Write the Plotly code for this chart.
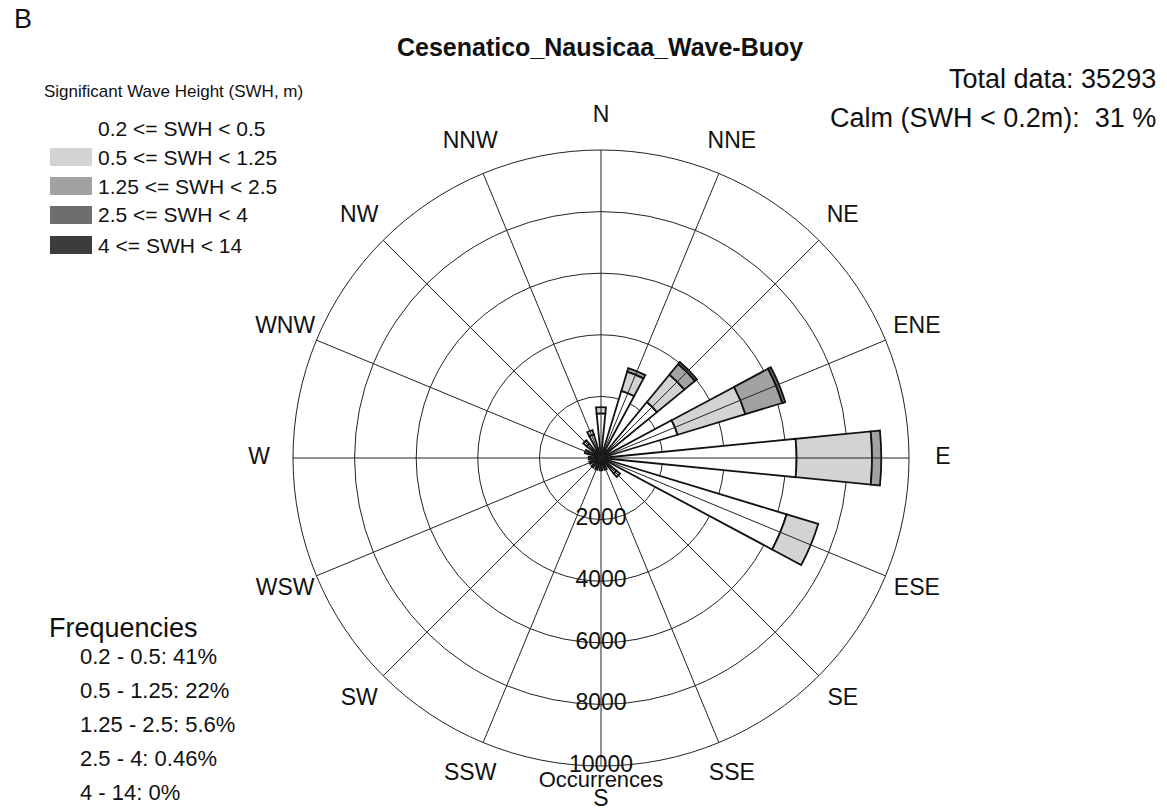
import plotly.graph_objects as go

# Compass sectors (16-point rose)
directions = ["N", "NNE", "NE", "ENE", "E", "ESE", "SE", "SSE",
              "S", "SSW", "SW", "WSW", "W", "WNW", "NW", "NNW"]

# Occurrences per sector for each SWH class (stacked outward)
swh_02_05 = [1450, 2280, 2350, 2600, 6350, 6300, 650, 400,
             400, 400, 400, 400, 400, 450, 600, 800]
swh_05_125 = [200, 650, 1150, 2300, 2450, 1070, 150, 0,
              0, 0, 0, 0, 0, 100, 150, 150]
swh_125_25 = [0, 120, 450, 1250, 300, 0, 0, 0,
              0, 0, 0, 0, 0, 0, 0, 0]
swh_25_4 = [0, 0, 80, 100, 0, 0, 0, 0,
            0, 0, 0, 0, 0, 0, 0, 0]
swh_4_14 = [0] * 16

class_labels = ["0.2 <= SWH < 0.5", "0.5 <= SWH < 1.25", "1.25 <= SWH < 2.5",
                "2.5 <= SWH < 4", "4 <= SWH < 14"]
class_colors = ["#ffffff", "#d3d3d3", "#a2a2a2", "#6e6e6e", "#3c3c3c"]
series = [swh_02_05, swh_05_125, swh_125_25, swh_25_4, swh_4_14]

ring_values = [2000, 4000, 6000, 8000, 10000]
ring_labels = ["2000", "4000", "6000", "8000", "10000"]
r_max = 10000          # outer ring of the rose
r_label = 11100        # radius where compass names sit
r_axis_title = 10500   # radius of the "Occurrences" caption

freq_labels = ["0.2 - 0.5: 41%", "0.5 - 1.25: 22%", "1.25 - 2.5: 5.6%",
               "2.5 - 4: 0.46%", "4 - 14: 0%"]

FONT = "Liberation Sans, Arial, sans-serif"
W, H = 1167, 812

fig = go.Figure()
for vals, name, col in zip(series, class_labels, class_colors):
    fig.add_trace(go.Barpolar(
        r=vals, theta=directions, name=name, width=0.5,
        marker=dict(color=col, line=dict(color="#111111", width=1.8)),
        showlegend=False,
    ))

# spokes from the centre to the outer ring, one per compass direction
spoke_r, spoke_t = [], []
for d in directions:
    spoke_r += [0, r_max, None]
    spoke_t += [d, d, None]
fig.add_trace(go.Scatterpolar(
    r=spoke_r, theta=spoke_t, mode="lines",
    line=dict(color="#222222", width=1), connectgaps=False,
    showlegend=False, hoverinfo="skip",
))

# compass names around the rose
fig.add_trace(go.Scatterpolar(
    r=[r_label] * len(directions), theta=directions, mode="text",
    text=directions, textposition="middle center",
    textfont=dict(family=FONT, size=23, color="#111111"),
    cliponaxis=False, showlegend=False, hoverinfo="skip",
))

# ring labels along the south axis
fig.add_trace(go.Scatterpolar(
    r=ring_values, theta=["S"] * len(ring_values), mode="text",
    text=ring_labels, textposition="middle center",
    textfont=dict(family=FONT, size=23, color="#111111"),
    cliponaxis=False, showlegend=False, hoverinfo="skip",
))
fig.add_trace(go.Scatterpolar(
    r=[r_axis_title], theta=["S"], mode="text", text=["Occurrences"],
    textposition="middle center",
    textfont=dict(family=FONT, size=22, color="#111111"),
    cliponaxis=False, showlegend=False, hoverinfo="skip",
))

cx, cy = 601, 458
R = 308 * r_label / r_max


def px(x):
    return x / W


def py(y):
    return 1 - y / H


fig.update_layout(
    width=W, height=H,
    margin=dict(l=0, r=0, t=0, b=0),
    paper_bgcolor="white", plot_bgcolor="white",
    font=dict(family=FONT, color="#111111"),
    polar=dict(
        domain=dict(x=[px(cx - R), px(cx + R)], y=[py(cy + R), py(cy - R)]),
        bgcolor="rgba(0,0,0,0)",
        barmode="stack",
        angularaxis=dict(
            type="category", categoryarray=directions,
            direction="clockwise", rotation=90,
            showline=False, showgrid=False, showticklabels=False, ticks="",
        ),
        radialaxis=dict(
            range=[0, r_label], tickvals=ring_values,
            showticklabels=False, ticks="", showline=False,
            showgrid=True, gridcolor="#222222", gridwidth=1.1,
            layer="above traces",
        ),
    ),
)

ann = []
ann.append(dict(x=px(12), y=py(19), text="B", xanchor="left", yanchor="middle",
                font=dict(size=27)))
ann.append(dict(x=px(600), y=py(47), text="<b>Cesenatico_Nausicaa_Wave-Buoy</b>",
                xanchor="center", yanchor="middle", font=dict(size=25)))
ann.append(dict(x=px(42), y=py(92), text="Significant Wave Height (SWH, m)",
                xanchor="left", yanchor="middle", font=dict(size=17)))
legend_rows = [128, 157, 186, 215, 245]
shapes = []
for i, (lab, col) in enumerate(zip(class_labels, class_colors)):
    yy = legend_rows[i]
    ann.append(dict(x=px(96), y=py(yy), text=lab, xanchor="left",
                    yanchor="middle", font=dict(size=21)))
    if i > 0:
        shapes.append(dict(type="rect", xref="paper", yref="paper",
                           x0=px(50), x1=px(92), y0=py(yy + 9), y1=py(yy - 9),
                           fillcolor=col, line=dict(width=0)))
ann.append(dict(x=px(1158), y=py(79), text="Total data: 35293", xanchor="right",
                yanchor="middle", font=dict(size=27)))
ann.append(dict(x=px(1158), y=py(118), text="Calm (SWH < 0.2m):\u00a0 31 %",
                xanchor="right", yanchor="middle", font=dict(size=27)))
ann.append(dict(x=px(47), y=py(628), text="Frequencies", xanchor="left",
                yanchor="middle", font=dict(size=27)))
for i, lab in enumerate(freq_labels):
    ann.append(dict(x=px(78), y=py(656 + 34.2 * i), text=lab, xanchor="left",
                    yanchor="middle", font=dict(size=22)))

for a in ann:
    a.update(xref="paper", yref="paper", showarrow=False)
fig.update_layout(annotations=ann, shapes=shapes)

fig.write_html("out.html")
